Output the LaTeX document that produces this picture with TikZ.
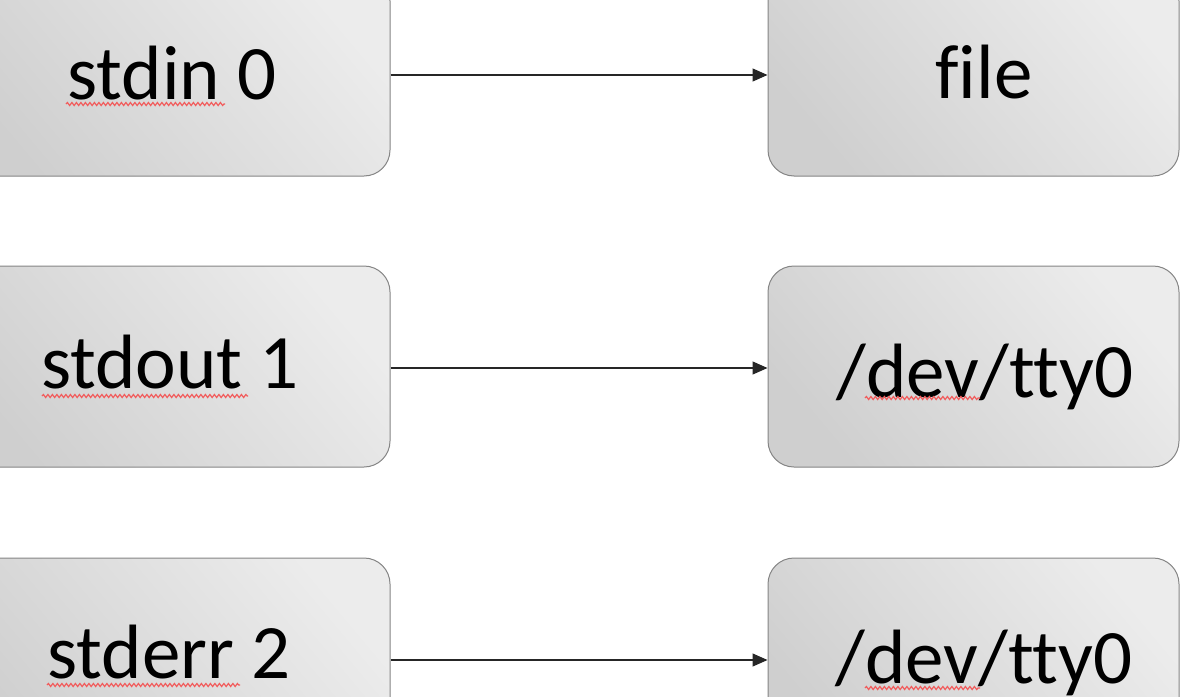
\documentclass[tikz,border=0pt]{standalone}
\usepackage{fontspec}
\setmainfont{Carlito}[RawFeature={-liga;-dlig;-clig}]
\usetikzlibrary{arrows.meta,decorations.pathmorphing}
\definecolor{boxdark}{HTML}{CFCFCF}
\definecolor{boxlight}{HTML}{ECECEC}
\definecolor{boxline}{HTML}{858585}
\definecolor{squig}{HTML}{F25A5A}
\tikzset{
  fdbox/.style={draw=boxline, line width=1pt, rounded corners=26pt,
    top color=boxlight, bottom color=boxdark, shading angle=-50,
    minimum height=201pt, inner sep=0pt},
  leftbox/.style={fdbox, minimum width=440pt},
  rightbox/.style={fdbox, minimum width=411pt},
  lbl/.style={anchor=base, inner sep=0pt, font=\fontsize{77}{90}\selectfont},
  link/.style={draw=black!85, line width=1.3pt, -{Triangle[length=15pt,width=13pt]}},
  spell/.style={draw=squig, line width=1.2pt, decorate,
    decoration={snake, amplitude=1.5pt, segment length=4.5pt}}
}
\begin{document}
\begin{tikzpicture}[x=1pt,y=-1pt]
\useasboundingbox (0,0) rectangle (1180,696);
\clip (0,0) rectangle (1180,696);
% boxes
\node[leftbox]  (b0) at (170,75.5) {};
\node[leftbox]  (b1) at (170,366.5) {};
\node[leftbox]  (b2) at (170,658.5) {};
\node[rightbox] (f0) at (973.5,75.5) {};
\node[rightbox] (f1) at (973.5,366.5) {};
\node[rightbox] (f2) at (973.5,658.5) {};
% labels
\node[lbl] (t0) at (172,99) {stdin 0};
\node[lbl] (t1) at (170,388) {stdout 1};
\node[lbl] (t2) at (169,678) {stderr 2};
\node[lbl] (u0) at (984,98) {file};
\node[lbl] (u1) at (985,397) {/dev/tty0};
\node[lbl] (u2) at (984,683) {/dev/tty0};
% spell-check underlines
\draw[spell] (66,104) -- (225,104);
\draw[spell] (42,396) -- (248,396);
\draw[spell] (47,685) -- (240,685);
\draw[spell] (865,398) -- (980,398);
\draw[spell] (865,688) -- (980,688);
% connectors
\draw[link] (b0.east |- 0,75) -- (f0.west |- 0,75);
\draw[link] (b1.east |- 0,368) -- (f1.west |- 0,368);
\draw[link] (b2.east |- 0,660) -- (f2.west |- 0,660);
\end{tikzpicture}
\end{document}
